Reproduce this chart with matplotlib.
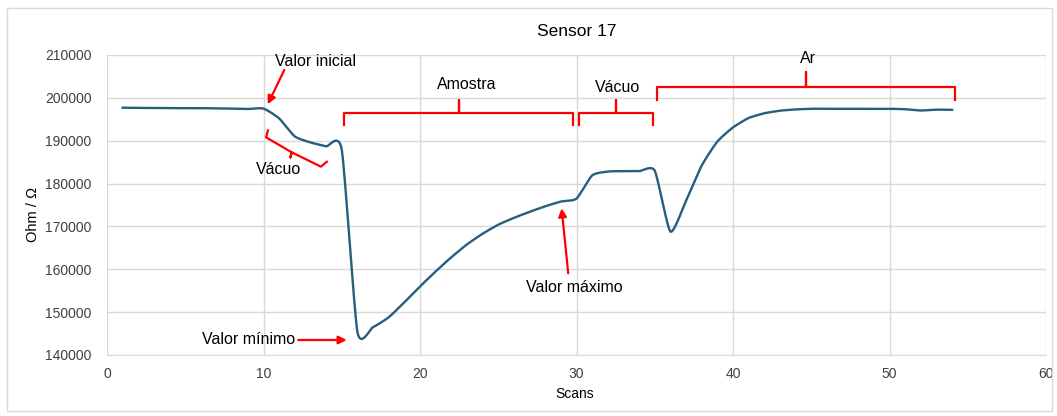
from matplotlib import pyplot as plt
from matplotlib.patches import Rectangle
from numpy import array, linspace, concatenate

# Sensor 17 readings, one per scan
scans = list(range(1, 55))
ohm = [197700, 197650, 197650, 197600, 197600, 197600, 197550, 197500, 197400, 197500,
       195200, 191000, 189600, 188700, 187900, 145400, 146500, 148800, 152300, 156000,
       159500, 162800, 165800, 168300, 170400, 172000, 173400, 174700, 175800, 176500,
       181900, 182800, 182900, 182900, 183000, 168800, 176000, 184200, 189800, 193100,
       195300, 196400, 197000, 197300, 197450, 197450, 197450, 197450, 197450, 197450,
       197350, 197050, 197250, 197200]

xticks = [0, 10, 20, 30, 40, 50, 60]
yticks = [140000, 150000, 160000, 170000, 180000, 190000, 200000, 210000]


def smooth(x, y, n=16, k=0.1):
    # smoothed line like the spreadsheet one (Bezier segments through each point)
    x = array(x, dtype=float)
    y = array(y, dtype=float)
    xs, ys = [], []
    t = linspace(0, 1, n)
    for i in range(len(x) - 1):
        i0 = max(i - 1, 0)
        i3 = min(i + 2, len(x) - 1)
        c1x = x[i] + (x[i + 1] - x[i0]) * k
        c1y = y[i] + (y[i + 1] - y[i0]) * k
        c2x = x[i + 1] - (x[i3] - x[i]) * k
        c2y = y[i + 1] - (y[i3] - y[i]) * k
        a, b, c, d = (1 - t)**3, 3*(1 - t)**2*t, 3*(1 - t)*t**2, t**3
        xs.append(a*x[i] + b*c1x + c*c2x + d*x[i + 1])
        ys.append(a*y[i] + b*c1y + c*c2y + d*y[i + 1])
    return concatenate(xs), concatenate(ys)


def brace_h(x1, x2, y_line, y_end, y_tip, ax):
    # horizontal bracket, ends pointing down, middle tip up
    xm = (x1 + x2) / 2
    ax.plot([x1, x1, xm, xm, xm, x2, x2],
            [y_end, y_line, y_line, y_tip, y_line, y_line, y_end],
            color='red', lw=1.6, solid_joinstyle='round', clip_on=False)


plt.rcParams['font.family'] = ['Liberation Sans', 'DejaVu Sans']
fig = plt.figure(figsize=(10.57, 4.16), dpi=100)
ax = fig.add_axes([107/1057, 1 - 355/416, (1046 - 107)/1057, 300/416])

sx, sy = smooth(scans, ohm)
ax.plot(sx, sy, color='#255E7E', lw=1.7)

ax.set_xlim(0, 60)
ax.set_ylim(140000, 210000)
ax.set_xticks(xticks)
ax.set_yticks(yticks)
ax.tick_params(length=0, labelsize=10, colors='#404040')
ax.tick_params(axis='y', pad=11)
ax.tick_params(axis='x', pad=9)
ax.grid(True, color='#D9D9D9', lw=1)
ax.set_axisbelow(True)
for s in ax.spines.values():
    s.set_visible(False)
ax.spines['bottom'].set_visible(True)
ax.spines['bottom'].set_color('#D9D9D9')

ax.set_title('Sensor 17', fontsize=12.5, pad=14)
fig.text(575/1057, 1 - 394/416, 'Scans', ha='center', va='center', fontsize=10)
fig.text(33/1057, 1 - 214/416, 'Ohm / Ω', ha='center', va='center', rotation=90, fontsize=10.5)

# Brackets
brace_h(15.14, 29.8, 196540, 193670, 199500, ax)
brace_h(30.16, 34.9, 196540, 193670, 199500, ax)
brace_h(35.16, 54.2, 202600, 199500, 206100, ax)
ax.plot([10.28, 10.16, 11.8, 11.72, 11.8, 13.67, 14.05],
        [192400, 190800, 187300, 186100, 187300, 183940, 185100],
        color='red', lw=1.6, solid_joinstyle='round')

label_size = 11.5
ax.text(23.0, 203230, 'Amostra', ha='center', va='center', fontsize=label_size)
ax.text(32.6, 202530, 'Vácuo', ha='center', va='center', fontsize=label_size)
ax.text(44.8, 209070, 'Ar', ha='center', va='center', fontsize=label_size, clip_on=False)
ax.text(10.99, 183330, 'Vácuo', ha='center', va='center', fontsize=label_size)

# Arrows
arrow = dict(arrowstyle='-|>', color='red', lw=1.6, mutation_scale=12, shrinkA=0, shrinkB=0)
ax.annotate('', xy=(10.27, 198500), xytext=(11.33, 206500), arrowprops=arrow)
ax.text(13.33, 208600, 'Valor inicial', ha='center', va='center', fontsize=label_size)
ax.annotate('', xy=(15.32, 143500), xytext=(12.22, 143500), arrowprops=arrow)
ax.text(9.07, 143500, 'Valor mínimo', ha='center', va='center', fontsize=label_size)
ax.annotate('', xy=(29.05, 174230), xytext=(29.47, 159070), arrowprops=arrow)
ax.text(29.84, 155800, 'Valor máximo', ha='center', va='center', fontsize=label_size)

# chart border
fig.patches.append(Rectangle((7/1057, 1 - 411/416), 1045/1057, 403/416,
                             transform=fig.transFigure, fill=False, ec='#D9D9D9', lw=1))

fig.savefig('out.png', dpi=100)
